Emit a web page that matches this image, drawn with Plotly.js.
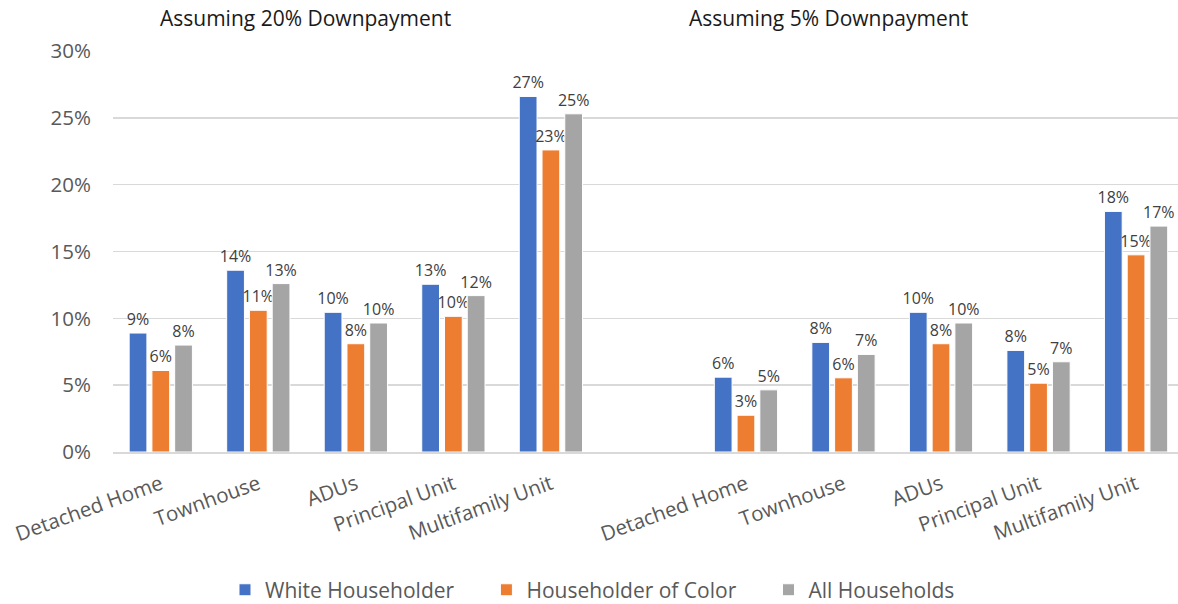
<!DOCTYPE html>
<html>
<head>
<meta charset="utf-8">
<script src="https://cdn.plot.ly/plotly-3.0.1.min.js"></script>
<style>html,body{margin:0;padding:0;background:#fff;}#chart{width:1178px;height:604px;}</style>
</head>
<body>
<div id="chart"></div>
<script>
// Categories and tick labels
const categories = ["Detached Home", "Townhouse", "ADUs", "Principal Unit", "Multifamily Unit"];
const scenarios = ["Assuming 20% Downpayment", "Assuming 5% Downpayment"];
const seriesNames = ["White Householder", "Householder of Color", "All Households"];
const yTicks = [0, 5, 10, 15, 20, 25, 30];

// Values (%) — 20% downpayment
const white20 = [8.9, 13.6, 10.45, 12.55, 26.6];
const color20 = [6.1, 10.6, 8.1, 10.15, 22.6];
const all20   = [8.0, 12.6, 9.65, 11.7, 25.3];
// Values (%) — 5% downpayment
const white5 = [5.6, 8.2, 10.45, 7.6, 18.0];
const color5 = [2.75, 5.55, 8.1, 5.15, 14.75];
const all5   = [4.65, 7.3, 9.65, 6.75, 16.9];

const colors = ["#4472C4", "#ED7D31", "#A5A5A5"];
const FONT = "Open Sans, Noto Sans, sans-serif";
const LEGEND_PAD = "\u00A0\u00A0\u00A0\u00A0\u00A0";

// positions: second scenario group offset by one empty slot
const groupOffset = categories.length + 1;
const xs = [];
const tickText = [];
scenarios.forEach((s, g) => categories.forEach((c, i) => { xs.push(g * groupOffset + i); tickText.push(c); }));

const seriesVals = [white20.concat(white5), color20.concat(color5), all20.concat(all5)];

const traces = seriesVals.map((vals, k) => ({
  type: "bar",
  name: seriesNames[k] + (k < seriesNames.length - 1 ? LEGEND_PAD : ""),
  x: xs,
  y: vals,
  marker: { color: colors[k], line: { color: "#ffffff", width: 1 } },
  text: vals.map(v => Math.round(v) + "%"),
  textposition: "outside",
  constraintext: "none",
  cliponaxis: false,
  textfont: { family: FONT, size: 16, color: "#404040" },
  hoverinfo: "skip"
}));

// title centres (in x-axis units) as placed in the original
const titleX = [1.48, 6.85];
const annotations = scenarios.map((s, g) => ({
  text: s,
  xref: "x", yref: "paper",
  x: titleX[g],
  y: 1.082, yanchor: "middle", xanchor: "center",
  showarrow: false,
  font: { family: FONT, size: 21, color: "#1a1a1a" }
}));

const layout = {
  width: 1178, height: 604,
  margin: { l: 113, r: 0, t: 51, b: 152 },
  paper_bgcolor: "#ffffff", plot_bgcolor: "#ffffff",
  barmode: "group",
  bargap: 0.3,
  bargroupgap: 0.22,
  showlegend: true,
  legend: {
    orientation: "h", xref: "container", yref: "container",
    x: 0.191, xanchor: "left", y: 0.023, yanchor: "middle",
    font: { family: FONT, size: 21, color: "#595959" },
    traceorder: "normal"
  },
  xaxis: {
    range: [-0.49, 10.43],
    tickmode: "array", tickvals: xs, ticktext: tickText,
    tickangle: -20,
    tickfont: { family: FONT, size: 20.5, color: "#595959" },
    ticklabelstandoff: 11,
    showgrid: false, zeroline: false,
    showline: true, linecolor: "#D9D9D9", linewidth: 1.5,
    ticks: "", fixedrange: true
  },
  yaxis: {
    range: [0, 30],
    tickmode: "array",
    tickvals: yTicks,
    ticktext: yTicks.map(v => v + "%"),
    tickfont: { family: FONT, size: 20.5, color: "#595959" },
    showgrid: true, gridcolor: "#D9D9D9", gridwidth: 1.5,
    zeroline: false, showline: false, ticks: "",
    ticklabelstandoff: 21, fixedrange: true
  },
  annotations: annotations
};

Plotly.newPlot("chart", traces, layout, { displayModeBar: false, staticPlot: true });
</script>
</body>
</html>
